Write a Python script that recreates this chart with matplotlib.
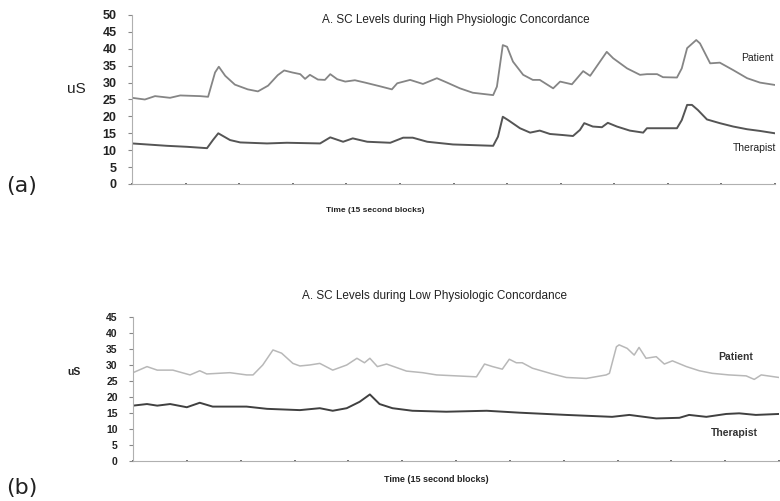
import matplotlib.pyplot as plt

# 15 second blocks (0..120) and skin conductance values (uS)
# (a) high physiologic concordance
hi_pat_t = [0, 2.4, 4.3, 7.1, 9.0, 12.7, 14.2, 15.5, 16.2, 17.4, 19.2, 21.6, 23.5, 25.4, 27.2,
            28.4, 29.9, 31.4, 32.3, 33.2, 34.7, 36.0, 37.0, 38.3, 39.8, 41.6, 43.5, 46.3, 48.5,
            49.5, 51.9, 54.3, 56.9, 58.8, 61.2, 63.6, 67.4, 68.1, 69.2, 70.0, 71.1, 73.0, 74.8,
            76.1, 78.6, 79.9, 82.1, 84.2, 85.5, 88.6, 89.8, 92.4, 94.8, 96.1, 98.0, 99.1, 101.7,
            102.6, 103.6, 105.3, 106.0, 107.9, 109.7, 112.2, 114.8, 117.2, 120]
hi_pat_v = [25.5, 25.0, 26.0, 25.5, 26.2, 26.0, 25.8, 33.0, 34.7, 32.0, 29.4, 28.0, 27.4, 29.1, 32.2,
            33.6, 33.0, 32.5, 31.1, 32.3, 30.9, 30.8, 32.5, 31.0, 30.3, 30.7, 30.0, 28.9, 28.0,
            29.8, 30.8, 29.6, 31.3, 30.0, 28.3, 27.0, 26.3, 28.8, 41.1, 40.6, 36.2, 32.3, 30.8,
            30.8, 28.3, 30.3, 29.5, 33.4, 32.0, 39.1, 37.2, 34.2, 32.3, 32.5, 32.5, 31.6, 31.5,
            34.2, 40.2, 42.6, 41.6, 35.7, 35.9, 33.7, 31.3, 30.0, 29.3]
hi_ther_t = [0, 6.5, 10.3, 14.0, 15.1, 16.1, 18.3, 20.2, 25.2, 28.9, 35.1, 37.0, 39.4, 41.2, 43.9,
             48.2, 50.6, 52.4, 55.1, 59.9, 67.4, 68.3, 69.2, 70.2, 72.4, 74.3, 76.1, 78.0, 80.3,
             82.3, 83.6, 84.4, 86.0, 87.7, 88.8, 90.5, 92.9, 95.4, 96.1, 101.7, 102.6, 103.6,
             104.5, 105.6, 107.3, 109.7, 112.2, 114.8, 117.2, 120]
hi_ther_v = [12.0, 11.3, 11.0, 10.6, 13.0, 15.0, 13.0, 12.3, 12.0, 12.2, 12.0, 13.8, 12.5, 13.5, 12.5,
             12.2, 13.7, 13.7, 12.5, 11.7, 11.3, 14.0, 19.9, 18.9, 16.5, 15.2, 15.8, 14.8, 14.5,
             14.2, 16.0, 18.0, 17.0, 16.8, 18.1, 17.0, 15.8, 15.2, 16.5, 16.5, 18.9, 23.4,
             23.4, 21.9, 19.1, 18.0, 17.0, 16.2, 15.7, 15.0]

# (b) low physiologic concordance
lo_pat_t = [0, 2.6, 4.5, 7.4, 10.6, 12.4, 13.7, 18.0, 21.1, 22.3, 24.1, 26.0, 27.6, 29.7, 31.0,
            32.8, 34.7, 37.1, 39.7, 41.6, 43.0, 44.0, 45.4, 47.1, 50.8, 53.8, 56.4, 63.8, 64.4,
            65.3, 66.8, 68.6, 69.9, 71.2, 72.3, 74.2, 77.9, 80.5, 84.2, 87.9, 88.5, 89.8, 90.3,
            91.8, 93.1, 94.0, 95.3, 97.2, 98.7, 100.2, 102.8, 105.2, 107.6, 110.7, 113.9, 115.4,
            116.7, 120]
lo_pat_v = [27.6, 29.5, 28.4, 28.4, 26.9, 28.2, 27.2, 27.6, 26.9, 26.9, 30.0, 34.7, 33.7, 30.5, 29.7,
            30.0, 30.5, 28.4, 30.0, 32.1, 30.7, 32.1, 29.5, 30.3, 28.1, 27.6, 26.9, 26.3, 27.9,
            30.3, 29.5, 28.7, 31.8, 30.7, 30.7, 29.0, 27.2, 26.1, 25.8, 26.9, 27.4, 35.7, 36.3,
            35.2, 33.1, 35.5, 32.1, 32.6, 30.3, 31.3, 29.5, 28.2, 27.4, 26.9, 26.6, 25.5,
            26.9, 26.1]
lo_ther_t = [0, 2.6, 4.5, 6.9, 10.0, 12.4, 14.8, 18.6, 21.1, 24.9, 31.0, 34.7, 37.1, 39.7, 42.1,
             44.0, 45.8, 48.2, 51.9, 58.2, 65.7, 71.8, 80.5, 89.0, 92.2, 97.2, 101.5, 103.3,
             106.5, 110.2, 112.6, 115.7, 120]
lo_ther_v = [17.3, 17.8, 17.3, 17.8, 16.8, 18.2, 17.0, 17.0, 17.0, 16.3, 15.9, 16.5, 15.7, 16.5, 18.5,
             20.8, 17.8, 16.5, 15.7, 15.4, 15.7, 15.1, 14.4, 13.8, 14.4, 13.3, 13.5, 14.4,
             13.8, 14.7, 14.9, 14.4, 14.7]

plt.rcParams['font.family'] = ['Liberation Sans', 'DejaVu Sans']

fig = plt.figure(figsize=(7.8, 5.01), dpi=100)
W, H = 780.0, 501.0


def px(x, y):
    # figure pixel -> figure fraction
    return x / W, 1 - y / H


def style_axes(ax, ymax, fs):
    ax.set_xlim(0, 120)
    ax.set_ylim(0, ymax)
    ax.set_yticks(range(0, ymax + 1, 5))
    ax.set_xticks(range(0, 121, 10))
    ax.set_xticklabels([])
    for s in ['top', 'right']:
        ax.spines[s].set_visible(False)
    for s in ['left', 'bottom']:
        ax.spines[s].set_color('#b0b0b0')
        ax.spines[s].set_linewidth(0.8)
    ax.tick_params(axis='y', length=3, width=0.8, color='#888888', labelsize=fs, pad=8)
    ax.tick_params(axis='x', length=2, width=1.2, color='#555555', direction='inout')
    for lab in ax.get_yticklabels():
        lab.set_fontweight('bold')
        lab.set_color('#222222')


# top panel
ax1 = fig.add_axes([132 / W, 1 - 184 / H, 643 / W, 169 / H])
ax1.plot(hi_pat_t, hi_pat_v, color='#858585', linewidth=1.3)
ax1.plot(hi_ther_t, hi_ther_v, color='#555555', linewidth=1.4)
style_axes(ax1, 50, 9)

# bottom panel
ax2 = fig.add_axes([133 / W, 1 - 461 / H, 646 / W, 144 / H])
ax2.plot(lo_pat_t, lo_pat_v, color='#b8b8b8', linewidth=1.1)
ax2.plot(lo_ther_t, lo_ther_v, color='#404040', linewidth=1.4)
style_axes(ax2, 45, 7.5)

# texts
fig.text(*px(456, 20), 'A. SC Levels during High Physiologic Concordance', fontsize=8.5,
         ha='center', va='center', color='#222222')
fig.text(*px(435, 296), 'A. SC Levels during Low Physiologic Concordance', fontsize=8.5,
         ha='center', va='center', color='#222222')
fig.text(*px(76, 89), 'uS', fontsize=11, ha='center', va='center', color='#222222')
fig.text(*px(74, 372), 'uS', fontsize=7.5, fontweight='bold', ha='center', va='center',
         color='#222222')
fig.text(*px(757, 58), 'Patient', fontsize=7.5, ha='center', va='center', color='#222222')
fig.text(*px(755, 148), 'Therapist', fontsize=7.5, ha='center', va='center', color='#222222')
fig.text(*px(736, 357), 'Patient', fontsize=7.5, fontweight='bold', ha='center', va='center',
         color='#333333')
fig.text(*px(734, 433), 'Therapist', fontsize=7.5, fontweight='bold', ha='center', va='center',
         color='#333333')
fig.text(*px(375, 210), 'Time (15 second blocks)', fontsize=6, fontweight='bold',
         ha='center', va='center', color='#222222')
fig.text(*px(436, 479), 'Time (15 second blocks)', fontsize=6.5, fontweight='bold',
         ha='center', va='center', color='#222222')
fig.text(*px(22, 186), '(a)', fontsize=16, ha='center', va='center', color='#222222',
         family='DejaVu Sans')
fig.text(*px(22, 488), '(b)', fontsize=16, ha='center', va='center', color='#222222',
         family='DejaVu Sans')

fig.savefig('out.png', dpi=100)
